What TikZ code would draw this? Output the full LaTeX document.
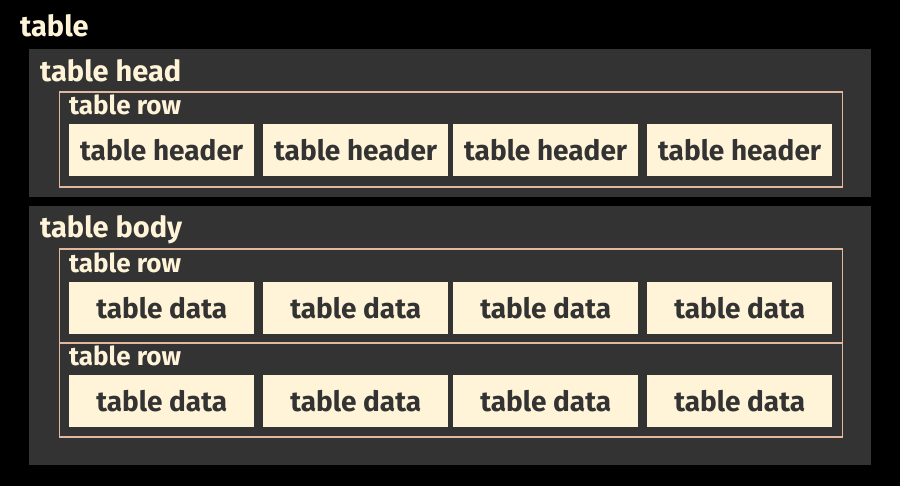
\documentclass[tikz,border=0pt]{standalone}
\usepackage{fontspec}
\setmainfont{Fira Sans}
\usepackage{xcolor}
\definecolor{panelgray}{HTML}{333333}
\definecolor{cream}{HTML}{FFF4D8}
\definecolor{peach}{HTML}{E0B8A0}

\begin{document}
\begin{tikzpicture}[x=1pt,y=-1pt]
  \tikzset{Panel/.style={fill=panelgray, inner sep=0pt, anchor=north west}}
  \tikzset{RowBox/.style={draw=peach, line width=1.6pt, inner sep=0pt, anchor=north west}}
  \tikzset{Cell/.style={fill=cream, text=panelgray, inner sep=0pt, minimum width=185pt,
      minimum height=52pt, font=\fontsize{28}{30}\selectfont\bfseries}}
  \tikzset{Label/.style={text=cream, inner sep=0pt, anchor=base west,
      font=\fontsize{29}{30}\selectfont\bfseries}}
  \tikzset{RowLabel/.style={Label, font=\fontsize{26}{28}\selectfont\bfseries}}

  \fill[black] (0,0) rectangle (900,486);
  \useasboundingbox (0,0) rectangle (900,486);

\node[Label] (table) at (20,37) {table};
   % table head
   \node[Panel, minimum width=842pt, minimum height=148pt] (head) at (29,49) {};
   \node[Label] (headlabel) at (40,82) {table head};
   \node[RowBox, minimum width=783pt, minimum height=95pt] (hrow) at (58.5,91) {};
   \node[RowLabel] (hrowlabel) at (69,115) {table row};
   \node[Cell, anchor=north west] (h1) at (69,124) {table header};
   \node[Cell, anchor=north west] (h2) at (263,124) {table header};
   \node[Cell, anchor=north west] (h3) at (453,124) {table header};
   \node[Cell, anchor=north west] (h4) at (647,124) {table header};

   % table body
   \node[Panel, minimum width=842pt, minimum height=259pt] (body) at (29,206) {};
   \node[Label] (bodylabel) at (40,238) {table body};
   \node[RowBox, minimum width=783pt, minimum height=94pt] (brow1) at (58.5,248) {};
   \node[RowBox, minimum width=783pt, minimum height=94pt] (brow2) at (58.5,342) {};
   \node[RowLabel] (brow1label) at (69,273) {table row};
   \node[RowLabel] (brow2label) at (69,366) {table row};
   \node[Cell, anchor=north west] (d11) at (69,282) {table data};
   \node[Cell, anchor=north west] (d12) at (263,282) {table data};
   \node[Cell, anchor=north west] (d13) at (453,282) {table data};
   \node[Cell, anchor=north west] (d14) at (647,282) {table data};
   \node[Cell, anchor=north west] (d21) at (69,375) {table data};
   \node[Cell, anchor=north west] (d22) at (263,375) {table data};
   \node[Cell, anchor=north west] (d23) at (453,375) {table data};
   \node[Cell, anchor=north west] (d24) at (647,375) {table data};
\end{tikzpicture}
\end{document}
